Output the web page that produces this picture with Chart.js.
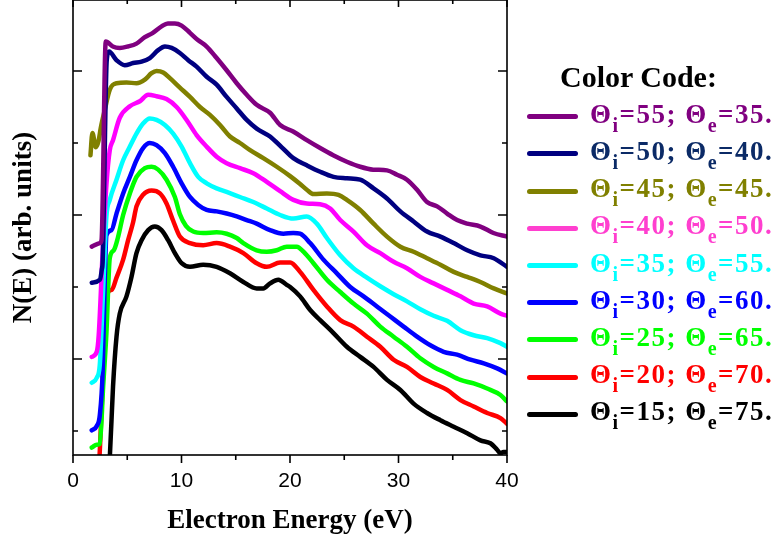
<!DOCTYPE html>
<html>
<head>
<meta charset="utf-8">
<title>N(E) spectra</title>
<script src="https://cdn.jsdelivr.net/npm/chart.js@4"></script>
<style>
  html, body { margin: 0; padding: 0; background: #fff; }
  #wrap { position: relative; width: 778px; height: 542px; }
  #legend { position: absolute; left: 0; top: 0; font-family: 'Liberation Serif', 'Times New Roman', serif; font-weight: bold; }
  #legend .title { position: absolute; left: 560px; top: 62px; font-size: 30px; line-height: 30px; white-space: nowrap; color: #000; }
  #legend .row { position: absolute; left: 527px; height: 37px; display: flex; align-items: center; white-space: nowrap; }
  #legend .swatch { width: 51px; height: 5px; border-radius: 2.5px; margin-right: 12px; }
  #legend .text { font-size: 27px; line-height: 27px; letter-spacing: 1.5px; position: relative; top: -2.5px; }
  #legend sub { font-size: 20px; line-height: 0; vertical-align: baseline; position: relative; top: 9px; }
</style>
</head>
<body>
<div id="wrap">
  <canvas id="chart" width="778" height="542"></canvas>
  <div id="legend"></div>
</div>
<script>
// incidence / emission angles for each spectrum
const thetaIn = [55, 50, 45, 40, 35, 30, 25, 20, 15];
const thetaOut = [35, 40, 45, 50, 55, 60, 65, 70, 75];

const lineColors = ['#800080', '#000080', '#808000', '#ff00ff', '#00ffff', '#0000ff', '#00ff00', '#ff0000', '#000000'];
const keyColors = ['#800080', '#000080', '#808000', '#ff3fcf', '#00ffff', '#0000ff', '#00ff00', '#ff0000', '#000000'];
const textColors = ['#800080', '#0b2a66', '#808000', '#ff3fcf', '#00ffff', '#0000ff', '#00ff00', '#ff0000', '#000000'];

// electron energy (eV) and N(E) (arb. units, curves offset) for each spectrum
const energy55 = [1.73, 2.47, 2.63, 3.02, 3.67, 4.31, 5.05, 5.85, 6.62, 7.36, 8.16, 8.74, 9.39, 10.01, 10.78, 11.51, 12.32, 13.24, 14.16, 15.09, 16.01, 16.93, 18.16, 19.09, 20.29, 21.55, 22.78, 23.98, 25.24, 26.47, 27.67, 28.94, 29.86, 30.78, 31.71, 32.63, 33.56, 34.48, 35.40, 36.33, 37.55, 38.75, 40.0];
const counts55 = [2.56, 2.61, 2.65, 5.41, 5.34, 5.32, 5.34, 5.38, 5.47, 5.53, 5.62, 5.66, 5.66, 5.63, 5.53, 5.43, 5.34, 5.18, 5.01, 4.83, 4.67, 4.53, 4.42, 4.25, 4.16, 4.04, 3.93, 3.83, 3.74, 3.67, 3.63, 3.62, 3.56, 3.49, 3.35, 3.18, 3.12, 3.02, 2.93, 2.88, 2.84, 2.75, 2.70];

const energy50 = [1.73, 2.47, 2.65, 2.74, 3.11, 3.32, 4.01, 4.77, 5.54, 6.32, 7.08, 7.85, 8.47, 9.09, 9.85, 10.62, 11.39, 12.32, 13.24, 14.16, 15.09, 16.01, 16.93, 18.16, 19.24, 20.31, 21.55, 22.78, 24.01, 25.24, 26.47, 27.70, 28.94, 30.17, 31.39, 32.63, 33.86, 35.09, 36.33, 37.55, 38.78, 40.0];
const counts50 = [2.06, 2.10, 2.24, 2.38, 5.15, 5.27, 5.15, 5.08, 5.11, 5.13, 5.18, 5.29, 5.34, 5.32, 5.25, 5.15, 5.06, 4.92, 4.81, 4.64, 4.48, 4.32, 4.20, 4.09, 3.94, 3.79, 3.69, 3.60, 3.53, 3.51, 3.49, 3.37, 3.23, 3.05, 2.91, 2.77, 2.70, 2.61, 2.51, 2.44, 2.40, 2.28];

const energy45 = [1.61, 1.79, 2.10, 2.37, 2.56, 2.93, 3.39, 4.01, 4.93, 5.85, 6.62, 7.24, 7.70, 8.31, 8.93, 9.85, 10.78, 11.70, 12.62, 13.55, 14.47, 15.39, 16.32, 17.54, 18.78, 20.01, 20.93, 21.55, 22.16, 23.40, 24.47, 25.24, 26.47, 27.70, 28.94, 30.17, 31.39, 32.63, 33.86, 35.09, 36.33, 37.55, 38.78, 40.0];
const counts45 = [3.83, 4.14, 3.94, 4.04, 4.21, 4.46, 4.74, 4.83, 4.84, 4.83, 4.88, 4.97, 5.00, 4.98, 4.90, 4.77, 4.64, 4.50, 4.39, 4.25, 4.09, 4.00, 3.90, 3.79, 3.67, 3.54, 3.43, 3.35, 3.29, 3.30, 3.28, 3.21, 3.07, 2.88, 2.70, 2.56, 2.49, 2.40, 2.31, 2.21, 2.14, 2.07, 1.98, 1.91];

const energy40 = [1.73, 2.19, 2.37, 2.74, 3.08, 3.39, 3.69, 4.31, 5.24, 6.16, 6.93, 7.70, 8.62, 9.55, 10.47, 11.39, 12.32, 13.24, 14.16, 15.39, 16.62, 17.86, 19.09, 20.31, 21.55, 22.78, 23.70, 24.63, 25.85, 27.09, 28.32, 29.55, 30.78, 32.01, 33.24, 34.48, 35.71, 36.93, 38.17, 39.40, 40.0];
const counts40 = [1.03, 1.10, 1.33, 2.51, 3.42, 3.90, 4.04, 4.35, 4.51, 4.58, 4.67, 4.65, 4.61, 4.50, 4.32, 4.11, 3.95, 3.81, 3.72, 3.65, 3.58, 3.46, 3.33, 3.21, 3.16, 3.15, 3.09, 2.93, 2.77, 2.58, 2.47, 2.35, 2.26, 2.14, 2.05, 1.96, 1.87, 1.77, 1.73, 1.63, 1.60];

const energy35 = [1.73, 2.19, 2.47, 2.74, 3.08, 3.39, 4.01, 4.62, 5.24, 5.85, 6.46, 7.08, 7.70, 8.47, 9.23, 10.01, 10.78, 11.54, 12.32, 13.24, 14.16, 15.39, 16.62, 17.86, 19.09, 20.31, 21.55, 22.47, 23.40, 24.63, 25.85, 27.09, 28.32, 29.55, 30.78, 32.01, 33.24, 34.48, 35.71, 36.93, 38.17, 39.40, 40.0];
const counts35 = [0.67, 0.74, 0.92, 1.82, 2.98, 3.21, 3.49, 3.76, 3.95, 4.13, 4.27, 4.34, 4.32, 4.25, 4.13, 3.95, 3.72, 3.53, 3.44, 3.37, 3.32, 3.25, 3.18, 3.09, 3.00, 2.95, 2.98, 2.88, 2.68, 2.44, 2.26, 2.13, 2.01, 1.90, 1.80, 1.69, 1.60, 1.53, 1.40, 1.33, 1.29, 1.22, 1.17];

const energy30 = [1.73, 2.19, 2.47, 2.74, 2.93, 3.08, 3.55, 4.01, 4.62, 5.24, 5.85, 6.46, 7.08, 7.70, 8.47, 9.23, 10.01, 10.78, 11.54, 12.32, 13.24, 14.16, 15.09, 16.01, 16.93, 18.16, 19.39, 20.31, 20.93, 21.86, 23.08, 24.32, 25.55, 26.78, 28.01, 29.24, 30.47, 31.71, 32.94, 34.16, 35.40, 36.63, 37.86, 39.09, 40.0];
const counts30 = [0.01, 0.07, 0.22, 0.85, 2.10, 2.72, 2.79, 3.02, 3.30, 3.53, 3.76, 3.93, 4.00, 3.97, 3.86, 3.67, 3.44, 3.25, 3.14, 3.07, 3.05, 3.02, 2.98, 2.93, 2.88, 2.79, 2.74, 2.75, 2.74, 2.61, 2.38, 2.19, 2.00, 1.87, 1.73, 1.59, 1.45, 1.31, 1.19, 1.10, 1.06, 0.99, 0.94, 0.87, 0.80];

const energy25 = [1.73, 2.19, 2.47, 2.78, 3.08, 3.39, 3.76, 4.13, 4.62, 5.24, 5.85, 6.62, 7.24, 7.85, 8.62, 9.39, 9.85, 10.41, 11.08, 12.00, 13.24, 14.16, 15.09, 15.70, 16.93, 17.86, 18.78, 19.70, 20.63, 21.24, 22.16, 23.40, 24.63, 25.85, 27.09, 28.32, 29.55, 30.78, 32.01, 33.24, 34.48, 35.71, 36.93, 38.17, 39.40, 40.0];
const counts25 = [-0.23, -0.19, -0.18, 0.62, 1.36, 2.40, 2.51, 2.68, 3.00, 3.30, 3.53, 3.65, 3.67, 3.63, 3.49, 3.25, 3.01, 2.85, 2.77, 2.75, 2.76, 2.74, 2.68, 2.61, 2.51, 2.49, 2.51, 2.56, 2.56, 2.49, 2.33, 2.10, 1.93, 1.77, 1.63, 1.45, 1.31, 1.17, 1.01, 0.89, 0.80, 0.71, 0.66, 0.59, 0.50, 0.41];

const energy20 = [2.42, 3.25, 3.57, 4.01, 4.62, 5.08, 5.54, 5.85, 6.46, 7.24, 8.01, 8.62, 9.23, 9.85, 10.78, 12.00, 13.24, 14.47, 15.70, 16.93, 17.86, 19.09, 20.01, 20.93, 22.16, 23.40, 24.63, 25.85, 27.09, 28.32, 29.55, 30.78, 32.01, 33.24, 34.48, 35.71, 36.93, 38.17, 39.40, 40.0];
const counts20 = [-0.43, 1.93, 1.96, 2.13, 2.38, 2.65, 2.90, 3.12, 3.28, 3.34, 3.30, 3.16, 2.92, 2.70, 2.61, 2.58, 2.61, 2.56, 2.47, 2.33, 2.28, 2.34, 2.34, 2.21, 1.96, 1.73, 1.54, 1.45, 1.31, 1.17, 0.99, 0.89, 0.75, 0.66, 0.57, 0.43, 0.34, 0.25, 0.18, 0.10];

const energy15 = [3.34, 3.55, 3.69, 4.01, 4.31, 4.93, 5.39, 5.85, 6.32, 6.93, 7.54, 8.16, 8.77, 9.39, 10.01, 10.78, 12.00, 13.24, 14.47, 15.70, 16.93, 17.54, 18.16, 18.93, 19.70, 20.01, 20.93, 21.86, 22.78, 24.01, 25.24, 26.47, 27.70, 28.94, 30.17, 31.39, 32.63, 33.86, 35.09, 36.33, 37.55, 38.47, 39.09, 39.40, 39.68, 40.0];
const counts15 = [-0.54, 0.15, 0.62, 1.31, 1.63, 1.87, 2.14, 2.47, 2.65, 2.79, 2.84, 2.79, 2.65, 2.47, 2.33, 2.28, 2.31, 2.28, 2.19, 2.07, 1.98, 1.98, 2.05, 2.10, 2.03, 2.00, 1.87, 1.68, 1.54, 1.36, 1.17, 1.03, 0.89, 0.71, 0.57, 0.38, 0.25, 0.15, 0.06, -0.03, -0.13, -0.17, -0.26, -0.31, -0.29, -0.29];

const energies = [energy55, energy50, energy45, energy40, energy35, energy30, energy25, energy20, energy15];
const counts = [counts55, counts50, counts45, counts40, counts35, counts30, counts25, counts20, counts15];

// axis ranges: x in eV, y in offset units (one tick per unit)
const xMin = 0, xMax = 40, xStep = 10;
const yMin = -1 / 3, yMax = 5.986, yStep = 1;

const datasets = energies.map((e, k) => ({
  label: `Θi=${thetaIn[k]}; Θe=${thetaOut[k]}.`,
  data: e.map((x, i) => ({ x, y: counts[k][i] })),
  borderColor: lineColors[k],
  borderWidth: 4.5,
  pointRadius: 0,
  cubicInterpolationMode: 'monotone',
  borderJoinStyle: 'round',
  borderCapStyle: 'round',
  clip: 0
}));

// box around the plot with inward ticks on top/left/right, outward on the bottom
const frame = {
  id: 'frame',
  afterDatasetsDraw(chart) {
    const { ctx, chartArea: { left, right, top, bottom }, scales: { x, y } } = chart;
    ctx.save();
    ctx.strokeStyle = '#000';
    ctx.lineWidth = 1.6;
    ctx.strokeRect(left, top, right - left, bottom - top);
    ctx.beginPath();
    x.ticks.forEach((t, i) => {
      const px = x.getPixelForValue(t.value);
      ctx.moveTo(px, bottom); ctx.lineTo(px, bottom + 8);
      ctx.moveTo(px, top); ctx.lineTo(px, top + 7);
      const next = x.ticks[i + 1];
      if (next) {
        const mx = x.getPixelForValue((t.value + next.value) / 2);
        ctx.moveTo(mx, bottom); ctx.lineTo(mx, bottom + 5);
        ctx.moveTo(mx, top); ctx.lineTo(mx, top + 4);
      }
    });
    y.ticks.forEach(t => {
      if (!Number.isInteger(t.value)) return;
      const py = y.getPixelForValue(t.value);
      const len = Math.abs(t.value % 2) === 1 ? 9 : 5;
      ctx.moveTo(left, py); ctx.lineTo(left + len, py);
      ctx.moveTo(right, py); ctx.lineTo(right - len, py);
    });
    ctx.stroke();
    ctx.restore();
  }
};

const chart = new Chart(document.getElementById('chart'), {
  type: 'line',
  data: { datasets },
  options: {
    responsive: false,
    animation: false,
    events: [],
    layout: { padding: { top: 0, right: 271, bottom: 0, left: 0 } },
    plugins: { legend: { display: false }, tooltip: { enabled: false } },
    scales: {
      x: {
        type: 'linear',
        min: xMin,
        max: xMax,
        grid: { display: false },
        border: { display: false },
        ticks: {
          stepSize: xStep,
          padding: 6,
          color: '#000',
          maxRotation: 0,
          font: { family: "'Liberation Sans', Arial, sans-serif", size: 21 }
        },
        title: {
          display: true,
          text: 'Electron Energy (eV)',
          color: '#000',
          padding: { top: 0, bottom: 5 },
          font: { family: "'Liberation Serif', 'Times New Roman', serif", size: 27, weight: 'bold' }
        },
        afterFit: s => { s.height = 87; }
      },
      y: {
        type: 'linear',
        min: yMin,
        max: yMax,
        grid: { display: false },
        border: { display: false },
        ticks: { display: false, stepSize: yStep, includeBounds: false },
        title: {
          display: true,
          text: 'N(E) (arb. units)',
          color: '#000',
          padding: { top: 8, bottom: 0 },
          font: { family: "'Liberation Serif', 'Times New Roman', serif", size: 27, weight: 'bold' }
        },
        afterFit: s => { s.width = 73; }
      }
    }
  },
  plugins: [frame]
});

// legend with subscripted angles, one row per spectrum
const legend = document.getElementById('legend');
let html = '<div class="title">Color Code:</div>';
chart.data.datasets.forEach((ds, k) => {
  const top = 98.2 + 37.2 * k;
  html += `<div class="row" style="top:${top}px">` +
    `<span class="swatch" style="background:${keyColors[k]}"></span>` +
    `<span class="text" style="color:${textColors[k]}">Θ<sub>i</sub>=${thetaIn[k]}; Θ<sub>e</sub>=${thetaOut[k]}.</span>` +
    `</div>`;
});
legend.innerHTML = html;
</script>
</body>
</html>
